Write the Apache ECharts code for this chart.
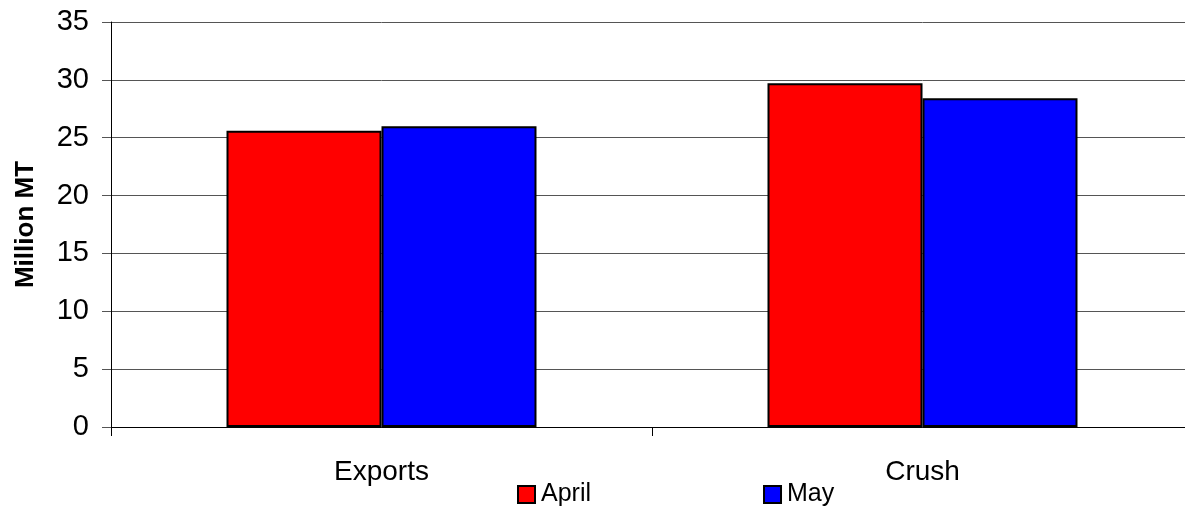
<!DOCTYPE html>
<html>
<head>
<meta charset="utf-8">
<script src="https://cdn.jsdelivr.net/npm/echarts@6/dist/echarts.min.js"></script>
<style>
  html, body { margin: 0; padding: 0; background: #fff; overflow: hidden; }
  #chart { width: 1193px; height: 508px; }
</style>
</head>
<body>
<div id="chart"></div>
<script>
const categories = ['Exports', 'Crush'];
const aprilValues = [25.6, 29.7];
const mayValues = [26.0, 28.4];

const chart = echarts.init(document.getElementById('chart'));

const barBorder = { borderColor: '#000', borderWidth: 2 };

const option = {
    animation: false,
    textStyle: { fontFamily: 'Liberation Sans, Arial, sans-serif', color: '#000' },
    // plot runs past the right edge of the window, as in the source image
    grid: { left: 111, top: 22, right: 0, bottom: 81 },
    legend: {
        left: 517,
        top: 482,
        padding: 0,
        itemWidth: 17,
        itemHeight: 17,
        itemGap: 172,
        icon: 'rect',
        textStyle: { fontSize: 25, color: '#000', padding: [2, 0, 0, 1] },
        data: ['April', 'May']
    },
    xAxis: {
        type: 'category',
        data: categories,
        axisLine: { lineStyle: { color: '#000', width: 1 } },
        axisTick: { show: true, length: 9, lineStyle: { color: '#000' } },
        axisLabel: { fontSize: 28, color: '#000', margin: 31 }
    },
    yAxis: {
        type: 'value',
        min: 0,
        max: 35,
        interval: 5,
        name: 'Million MT',
        nameLocation: 'middle',
        nameGap: 72,
        nameTextStyle: { fontSize: 26, fontWeight: 'bold', color: '#000' },
        axisLine: { show: true, lineStyle: { color: '#000', width: 1 } },
        axisTick: { show: true, length: 9, lineStyle: { color: '#555' } },
        axisLabel: { fontSize: 29, color: '#000', margin: 22 },
        splitLine: { lineStyle: { color: '#555', width: 1 } }
    },
    series: [
        {
            name: 'April',
            type: 'bar',
            data: aprilValues,
            barGap: '0%',
            barCategoryGap: '42.7%',
            itemStyle: Object.assign({ color: '#ff0000' }, barBorder)
        },
        {
            name: 'May',
            type: 'bar',
            data: mayValues,
            itemStyle: Object.assign({ color: '#0000ff' }, barBorder)
        }
    ]
};

chart.setOption(option);
</script>
</body>
</html>
